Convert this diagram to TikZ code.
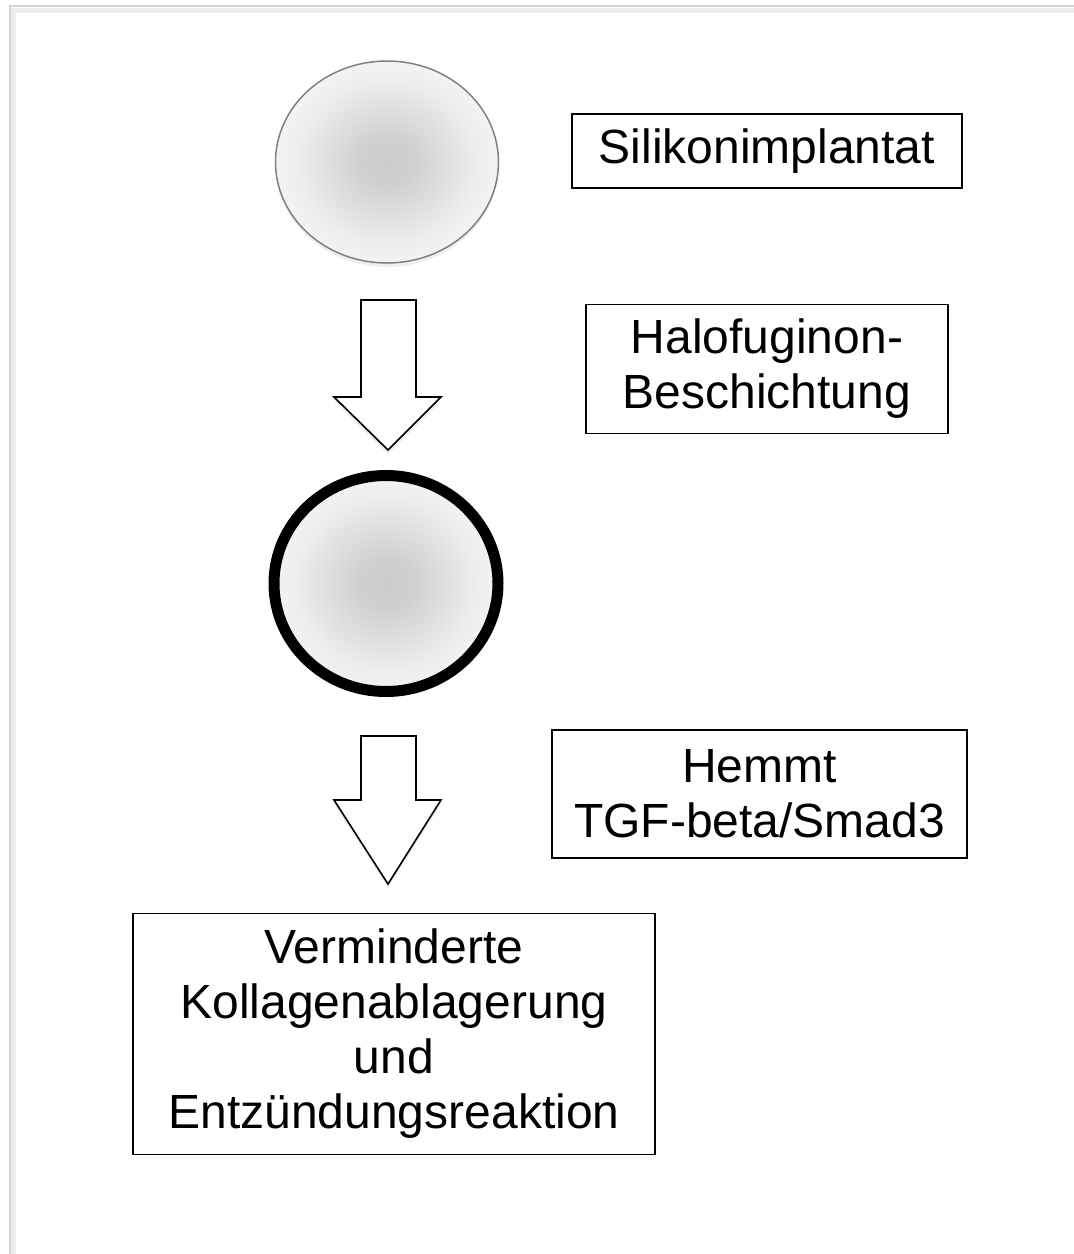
\documentclass[tikz,border=0pt]{standalone}
\usepackage{fontspec}
\setmainfont{Liberation Sans}
\usepackage{tikz}
\usetikzlibrary{positioning, shadows, shapes.geometric}
\definecolor{rimGrey}{RGB}{128,128,128}
\definecolor{pageGrey}{RGB}{212,212,212}
\definecolor{pageShade}{RGB}{236,236,236}
\pgfdeclareradialshading{implantShade}{\pgfpoint{0bp}{0bp}}{color(0bp)=(gray!40); color(6bp)=(gray!37); color(20bp)=(gray!14); color(32bp)=(gray!3); color(50bp)=(white)}

\begin{document}
\begin{tikzpicture}[
  x=1pt, y=-1pt,
  font=\fontsize{48}{55}\selectfont,
  implant/.style={ellipse, shading=implantShade, inner sep=0pt,
    drop shadow={opacity=0.12, shadow xshift=0pt, shadow yshift=-4pt}},
  plain/.style={implant, draw=rimGrey, line width=1.5pt},
  coated/.style={implant, draw=black, line width=11pt},
  infobox/.style={draw, line width=1.6pt, align=center, inner sep=0pt, fill=white},
  blockarr/.style={draw, line width=1.6pt, fill=white, line join=miter,
    drop shadow={opacity=0.15, shadow xshift=0pt, shadow yshift=-4pt}}
]
\useasboundingbox[fill=white] (0,0) rectangle (1074,1254);

% page frame
\draw[pageShade, line width=5pt] (13,1254) -- (13,10) -- (1074,10);
\draw[pageGrey, line width=2pt] (10,1254) -- (10,6) -- (1074,6);

% implants
\node[plain, minimum width=223pt, minimum height=202pt] (implant) at (387,162) {};
\node[coated, minimum width=224pt, minimum height=216pt] (coatedImplant) at (386,583.5) {};

% arrows
\draw[blockarr] (361,300) -- (416,300) -- (416,397) -- (441,397) -- (388,450) -- (334,397) -- (361,397) -- cycle;
\draw[blockarr] (361,736) -- (416,736) -- (416,800) -- (441,800) -- (388,884) -- (334,800) -- (361,800) -- cycle;

% labels
\node[infobox, minimum width=390pt, minimum height=74pt] (silikon) at (767,151) {Silikonimplantat};
\node[infobox, minimum width=362pt, minimum height=129pt] (coating) at (767,369) {Halofuginon-\\Beschichtung};
\node[infobox, minimum width=415pt, minimum height=128pt] (inhibit) at (759.5,794) {Hemmt\\TGF-beta/Smad3};
\node[infobox, minimum width=522pt, minimum height=241pt] (result) at (394,1034) {Verminderte\\Kollagenablagerung\\und\\Entzündungsreaktion};
\end{tikzpicture}
\end{document}
